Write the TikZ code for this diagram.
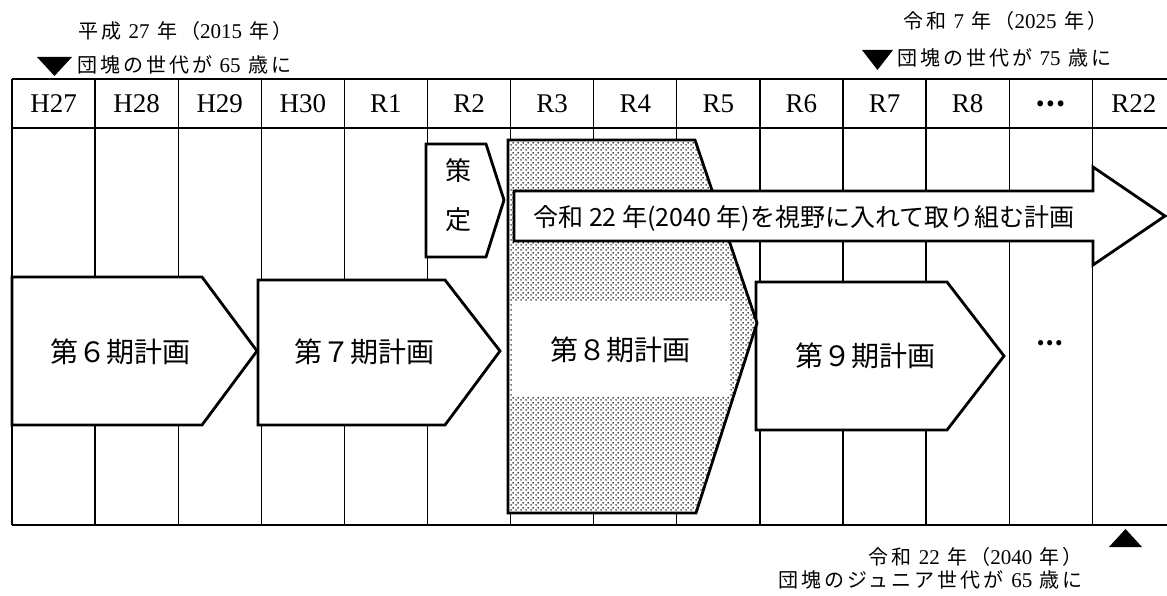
\documentclass[tikz,border=0pt]{standalone}
\usepackage{fontspec}
\setmainfont{Liberation Serif}
\newfontfamily\cjk{Noto Sans CJK JP}
\newfontfamily\cjkw[LetterSpace=15]{Noto Sans CJK JP}
\usetikzlibrary{patterns}
\newcommand\dg[1]{{\rmfamily\fontsize{21}{24}\selectfont #1}}
\pgfdeclarepatternformonly{mydots}{\pgfpoint{0pt}{0pt}}{\pgfpoint{5pt}{5pt}}{\pgfpoint{5pt}{5pt}}{%
  \pgfpathcircle{\pgfpoint{1.25pt}{1.25pt}}{0.95pt}%
  \pgfpathcircle{\pgfpoint{3.75pt}{3.75pt}}{0.95pt}%
  \pgfusepath{fill}}
\begin{document}
\begin{tikzpicture}[x=1pt,y=-1pt,
  gridline/.style={line width=1.3pt},
  planbox/.style={draw, line width=2.8pt, line join=miter},
  hdr/.style={font=\fontsize{27}{30}\selectfont, inner sep=0},
  ann/.style={font=\cjkw\fontsize{20}{24}\selectfont, inner sep=0},
  plantxt/.style={font=\cjk\fontsize{28}{32}\selectfont, inner sep=0},
  tri/.style={fill=black}]
\useasboundingbox (0,0) rectangle (1167,596);
\fill[white] (0,0) rectangle (1167,596);
% grid
\foreach \i in {0,...,13}
  \draw[gridline] ({12+83.1*\i},79) -- ({12+83.1*\i},525);
\draw[gridline] (12,79) -- (1167,79);
\draw[gridline] (12,128) -- (1167,128);
\draw[gridline] (12,525) -- (1167,525);
% header labels
\foreach \t [count=\i] in {H27,H28,H29,H30,R1,R2,R3,R4,R5,R6,R7,R8,{\cjk\bfseries …},R22}
  \node[hdr] (h\i) at ({12+83.1*(\i-0.5)},103.5) {\t};
% plan 6
\draw[planbox, fill=white] (12,277) -- (202,277) -- (257,351) -- (202,425) -- (12,425) -- cycle;
\node[plantxt] (p6) at (120,352) {第６期計画};
% plan 7
\draw[planbox, fill=white] (258,280) -- (445,280) -- (500,351) -- (445,425) -- (258,425) -- cycle;
\node[plantxt] (p7) at (364,352) {第７期計画};
% plan 9
\draw[planbox, fill=white] (756,282) -- (947,282) -- (1004,356) -- (947,430) -- (756,430) -- cycle;
\node[plantxt] (p9) at (865,356) {第９期計画};
\node[font=\cjk\bfseries\fontsize{24}{28}\selectfont, inner sep=0] (dots) at (1050,343) {…};
% plan 8 (shaded)
\fill[white] (508,140) -- (695,140) -- (757,323) -- (696,513) -- (508,513) -- cycle;
\fill[pattern=mydots] (508,140) -- (695,140) -- (757,323) -- (696,513) -- (508,513) -- cycle;
\fill[white] (512,302) rectangle (730,396);
\draw[planbox] (508,140) -- (695,140) -- (757,323) -- (696,513) -- (508,513) -- cycle;
\node[plantxt] (p8) at (620,350) {第８期計画};
% sakutei
\draw[planbox, fill=white] (426,144) -- (486,144) -- (504,200) -- (486,257) -- (426,257) -- cycle;
\node[font=\cjk\fontsize{26}{30}\selectfont, inner sep=0] (saku) at (458,171) {策};
\node[font=\cjk\fontsize{26}{30}\selectfont, inner sep=0] (tei) at (458,220) {定};
% long arrow
\draw[planbox, fill=white] (514,191) -- (1093,191) -- (1093,167) -- (1165,216) -- (1093,265) -- (1093,241) -- (514,241) -- cycle;
\node[font=\cjk\fontsize{25}{29}\selectfont, inner sep=0] (goal) at (804,218) {令和 22 年(2040 年)を視野に入れて取り組む計画};
% annotations
\fill[tri] (37,57) -- (72,57) -- (54.5,76) -- cycle;
\node[ann, anchor=west] (a1) at (78,31) {平成 \dg{27} 年（\dg{2015} 年）};
\node[ann, anchor=west] (a2) at (77,65) {団塊の世代が \dg{65} 歳に};
\fill[tri] (862,50) -- (893,50) -- (877.5,70) -- cycle;
\node[ann, anchor=west] (b1) at (903,21) {令和 \dg{7} 年（\dg{2025} 年）};
\node[ann, anchor=west] (b2) at (897,58) {団塊の世代が \dg{75} 歳に};
\fill[tri] (1109,547) -- (1142,547) -- (1125.5,529) -- cycle;
\node[ann, anchor=east] (c1) at (1083,557) {令和 \dg{22} 年（\dg{2040} 年）};
\node[ann, anchor=east] (c2) at (1083,580) {団塊のジュニア世代が \dg{65} 歳に};
\end{tikzpicture}
\end{document}
